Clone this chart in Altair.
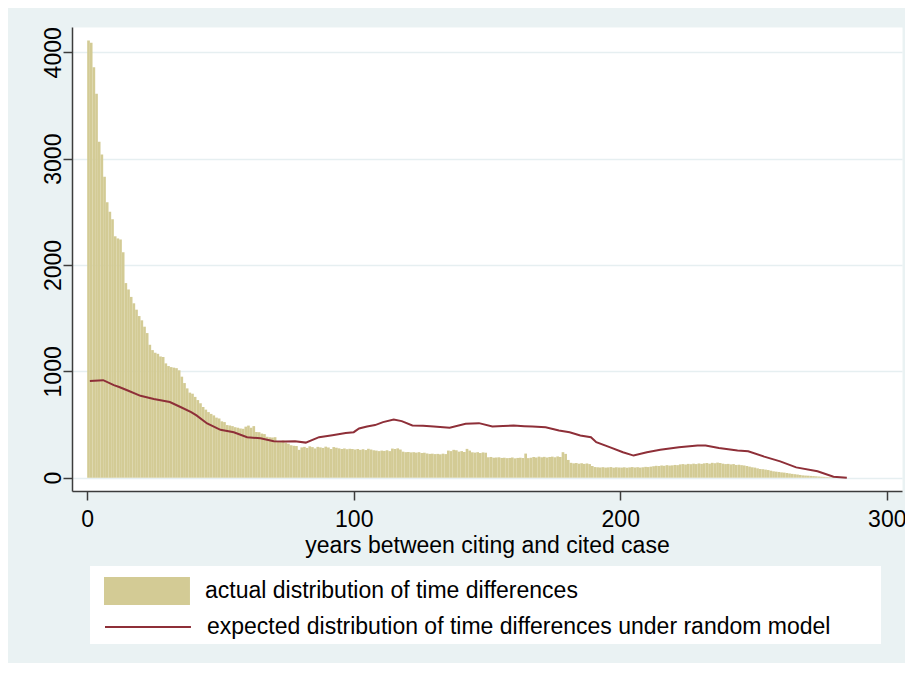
import altair as alt
import pandas as pd

# ---- data ----
bar_label = "actual distribution of time differences"
line_label = "expected distribution of time differences under random model"

# one bar per year, bar i spans [i, i+1]
actual = [
    4110, 4090, 3860, 3610, 3160, 3040, 2830, 2590, 2500, 2430,
    2270, 2250, 2240, 2120, 1830, 1770, 1700, 1640, 1580, 1520,
    1480, 1420, 1360, 1250, 1200, 1175, 1165, 1140, 1135, 1075,
    1050, 1040, 1035, 1030, 1010, 950, 890, 840, 800, 790,
    760, 730, 700, 665, 640, 617, 600, 586, 565, 557,
    530, 523, 495, 491, 485, 475, 470, 463, 460, 480,
    490, 470, 485, 430, 428, 415, 410, 385, 380, 378,
    381, 345, 335, 350, 330, 320, 305, 300, 298, 262,
    285, 290, 280, 295, 288, 275, 290, 285, 280, 292,
    285, 270, 288, 282, 276, 270, 275, 268, 272, 270,
    265, 270, 262, 268, 260, 272, 265, 258, 255, 250,
    255, 252, 258, 250, 274, 270, 276, 265, 245, 240,
    242, 238, 240, 236, 240, 232, 235, 228, 224, 226,
    222, 224, 220, 226, 222, 255, 250, 262, 258, 245,
    250, 242, 271, 255, 239, 236, 240, 232, 238, 235,
    192, 195, 188, 190, 192, 186, 188, 184, 186, 190,
    182, 186, 188, 185, 227, 184, 188, 195, 190, 198,
    192, 196, 190, 195, 198, 192, 200, 195, 240, 224,
    167, 140, 135, 138, 132, 136, 130, 134, 128, 110,
    100, 98, 96, 99, 95, 97, 100, 94, 98, 96,
    95, 98, 94, 97, 100, 96, 99, 95, 98, 102,
    100, 104, 108, 112, 110, 115, 112, 118, 114, 116,
    120, 118, 125, 128, 124, 130, 127, 132, 128, 134,
    130, 135, 138, 132, 140, 136, 142, 138, 132, 128,
    130, 125, 128, 120, 122, 118, 115, 110, 104, 98,
    95, 88, 82, 80, 76, 72, 66, 60, 57, 54,
    50, 48, 44, 40, 36, 33, 30, 26, 22, 20,
    19, 17, 15, 13, 11, 9, 8, 6, 5, 4,
    3, 2, 2, 1, 1,
]
bar_years = list(range(len(actual)))

line_years = [1, 6, 10, 12, 15, 20, 25, 31, 35, 39, 41, 45, 50, 55, 60, 65,
              70, 74, 78, 82, 87, 92, 97, 100, 102, 105, 108, 111, 115, 118,
              122, 126, 130, 136, 142, 147, 152, 156, 160, 164, 167, 172, 177,
              181, 185, 189, 191, 196, 201, 205, 210, 215, 222, 229, 232, 237,
              244, 248, 254, 260, 266, 274, 280, 285]
line_values = [910, 917, 870, 853, 822, 770, 740, 712, 665, 617, 586, 510, 450,
               428, 381, 370, 343, 340, 343, 330, 381, 400, 420, 428, 463, 482,
               495, 523, 548, 532, 491, 488, 482, 470, 507, 513, 482, 486, 491,
               485, 482, 475, 444, 428, 397, 381, 334, 287, 239, 208, 239, 262,
               287, 302, 302, 280, 255, 249, 198, 154, 97, 60, 9, 0]

x_ticks = [0, 100, 200, 300]
y_ticks = [0, 1000, 2000, 3000, 4000]

bars_df = pd.DataFrame({
    "year": bar_years,
    "year_end": [y + 1 for y in bar_years],
    "count": actual,
    "series_bar": bar_label,
})
line_df = pd.DataFrame({
    "year": line_years,
    "count": line_values,
    "series_line": line_label,
})

FONT = "Liberation Sans"
FS = 23
KHAKI = "#d3cb95"
MAROON = "#8e2f38"
BG = "#eaf2f3"

# legend swatches: custom paths, 28px "size" box, drawn 86px wide
SWATCH_RECT = "M-1,-1H5.14V1H-1Z"
SWATCH_LINE = "M-1,0H5.14"
NBSP = "\u00a0"
ZWSP = "\u200b"

x_enc = alt.X(
    "year:Q",
    scale=alt.Scale(domain=[-5.7, 305.7], nice=False, zero=False),
    axis=alt.Axis(values=x_ticks, title="years between citing and cited case",
                  grid=False, labelPadding=8, titleBaseline="alphabetic",
                  titleY=61),
)
y_enc = alt.Y(
    "count:Q",
    scale=alt.Scale(domain=[-125, 4238], nice=False),
    axis=alt.Axis(values=y_ticks, title=None, grid=True, format="d",
                  labelAngle=270, labelAlign="center",
                  labelBaseline="alphabetic", labelPadding=3),
)

bars = alt.Chart(bars_df).mark_bar(strokeWidth=0).encode(
    x=x_enc,
    x2="year_end:Q",
    y=y_enc,
    y2=alt.datum(0),
    color=alt.Color(
        "series_bar:N",
        scale=alt.Scale(domain=[bar_label], range=[KHAKI]),
        legend=alt.Legend(
            title=None, orient="none", legendX=32, legendY=550,
            symbolType=SWATCH_RECT, symbolSize=784,
            symbolOpacity=1, symbolStrokeWidth=0,
            labelFont=FONT, labelFontSize=FS, labelColor="#000",
            labelOffset=73, labelLimit=900, padding=0, zindex=2,
        ),
    ),
)

line = alt.Chart(line_df).mark_line(strokeWidth=2).encode(
    x=x_enc,
    y=y_enc,
    stroke=alt.Stroke(
        "series_line:N",
        scale=alt.Scale(domain=[line_label], range=[MAROON]),
        legend=alt.Legend(
            title=NBSP, titleFontSize=22, titlePadding=19,
            orient="none", legendX=18, legendY=539,
            symbolType=SWATCH_LINE, symbolSize=784, symbolStrokeWidth=2,
            symbolOffset=9,
            labelFont=FONT, labelFontSize=FS, labelColor="#000",
            labelOffset=73, labelLimit=900,
            labelExpr="datum.label + '" + NBSP * 7 + ZWSP + "'",
            padding=5, fillColor="white", zindex=1,
        ),
    ),
)

chart = (
    alt.layer(bars, line)
    .properties(
        width=830, height=464,
        autosize=alt.AutoSizeParams(type="none"),
        padding={"left": 64, "top": 19, "right": 3, "bottom": 172},
        background=BG,
    )
    .configure_view(fill="white", stroke="transparent")
    .configure_axis(
        labelFont=FONT, labelFontSize=FS, labelColor="#000",
        titleFont=FONT, titleFontSize=FS, titleColor="#000",
        titleFontWeight="normal",
        domainColor="#3c3c3c", domainWidth=1.5,
        tickColor="#3c3c3c", tickWidth=1.5, tickSize=9,
        gridColor="#e6eff1", gridWidth=1.5,
    )
)

chart.save("out.html", embed_options={"renderer": "svg", "actions": False})
